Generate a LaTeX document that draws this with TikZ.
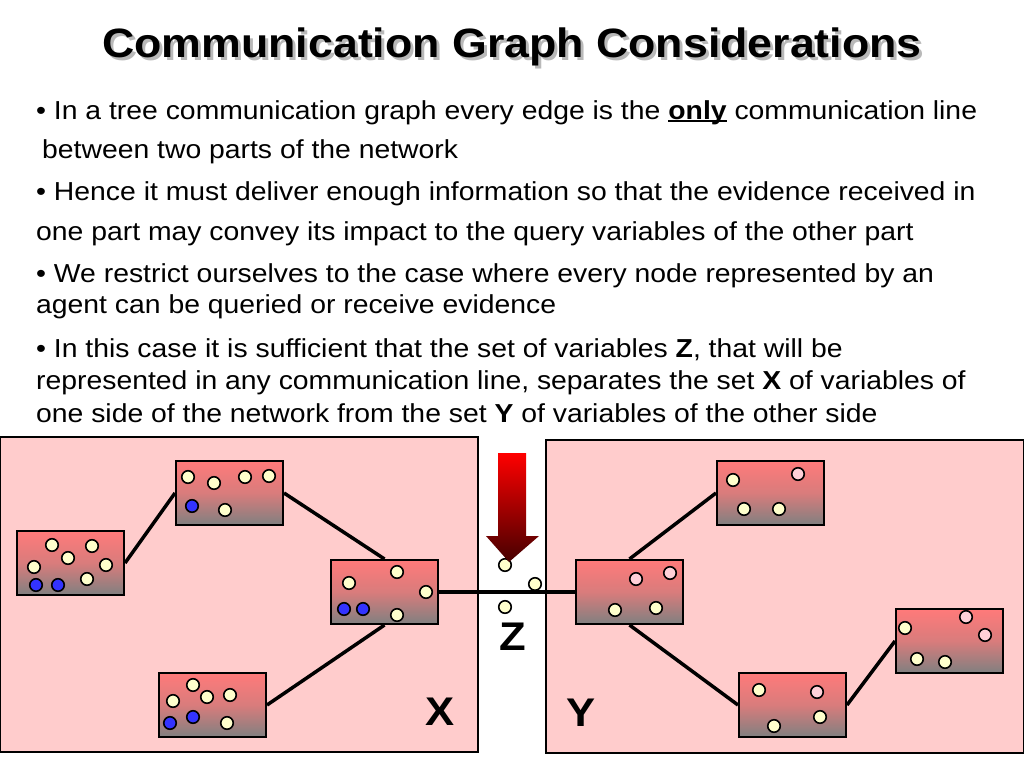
\documentclass[tikz,border=0pt]{standalone}
\usepackage{fontspec}
\setmainfont{Liberation Sans}[FakeStretch=1.09]
\definecolor{panelpink}{RGB}{255,204,204}
\definecolor{cream}{RGB}{255,255,204}
\definecolor{dotblue}{RGB}{51,51,255}
\definecolor{dotpink}{RGB}{255,208,216}
\definecolor{boxtop}{RGB}{255,122,122}
\definecolor{boxbot}{RGB}{128,128,128}
\definecolor{arrtop}{RGB}{255,0,0}
\definecolor{arrbot}{RGB}{70,0,0}
\newcommand\myul[1]{\setbox0\hbox{#1}\rlap{\raisebox{-3.2pt}{\rule{\wd0}{2pt}}}\box0\relax}
\begin{document}
\begin{tikzpicture}[x=1pt,y=-1pt,
  bodytext/.style={anchor=base west,inner sep=0,font=\fontsize{26}{30}\selectfont},
  panel/.style={draw,line width=2pt,fill=panelpink},
  agent/.style={draw,line width=2pt,top color=boxtop,bottom color=boxbot,middle color=boxtop!70!boxbot,minimum width=107pt,minimum height=64pt,inner sep=0},
  cr/.style={circle,draw,line width=1.6pt,fill=cream,minimum size=12.5pt,inner sep=0},
  cb/.style={cr,fill=dotblue},
  cp/.style={cr,fill=dotpink},
  link/.style={line width=3.5pt},
  setlabel/.style={font=\fontsize{40}{44}\selectfont\bfseries,inner sep=0}]
\useasboundingbox (0,0) rectangle (1024,768);
\fill[white] (0,0) rectangle (1024,768);
% title with soft shadow
\node[text=gray!55,font=\fontsize{41}{46}\selectfont\bfseries,anchor=base] (titleshadow) at (515,60) {Communication Graph Considerations};
\node[font=\fontsize{41}{46}\selectfont\bfseries,anchor=base] (title) at (512,57) {Communication Graph Considerations};
% body
\node[bodytext] (l1) at (36,119) {• In a tree communication graph every edge is the \myul{\textbf{only}} communication line};
\node[bodytext] (l2) at (42,158) {between two parts of the network};
\node[bodytext] (l3) at (36,200) {• Hence it must deliver enough information so that the evidence received in};
\node[bodytext] (l4) at (36,240) {one part may convey its impact to the query variables of the other part};
\node[bodytext] (l5) at (36,282) {• We restrict ourselves to the case where every node represented by an};
\node[bodytext] (l6) at (36,313) {agent can be queried or receive evidence};
\node[bodytext] (l7) at (36,357) {• In this case it is sufficient that the set of variables \textbf{Z}, that will be};
\node[bodytext] (l8) at (36,389) {represented in any communication line, separates the set \textbf{X} of variables of};
\node[bodytext] (l9) at (36,422) {one side of the network from the set \textbf{Y} of variables of the other side};
% panels
\draw[panel] (0,437) rectangle (478,752);
\draw[panel] (546,440) rectangle (1024,753);
% agents X side
\node[agent] (A) at (70.5,563) {};
\node[agent] (B) at (229.5,493) {};
\node[agent] (C) at (384.5,592) {};
\node[agent] (D) at (212.5,705) {};
% agents Y side
\node[agent] (E) at (629.5,592) {};
\node[agent] (F) at (770.5,493) {};
\node[agent] (G) at (792.5,705) {};
\node[agent] (H) at (949.5,641) {};
% links
\draw[link] (A.east) -- (B.west);
\draw[link] (B.east) -- (C.north);
\draw[link] (C.south) -- (D.east);
\draw[link] (C.east) -- (E.west);
\draw[link] (E.north) -- (F.west);
\draw[link] (E.south) -- (G.west);
\draw[link] (G.east) -- (H.west);
% redraw agents on top of links
\node[agent] at (A) {};
\node[agent] at (B) {};
\node[agent] at (C) {};
\node[agent] at (D) {};
\node[agent] at (E) {};
\node[agent] at (F) {};
\node[agent] at (G) {};
\node[agent] at (H) {};
% variables in A
\foreach \p [count=\i] in {(52,545),(92,546),(68,558),(34,567),(106,565),(87,579)} \node[cr] (a\i) at \p {};
\node[cb] (a7) at (36,585) {};
\node[cb] (a8) at (58,585) {};
% B
\foreach \p [count=\i] in {(188,477),(214,483),(245,477),(269,476),(225,510)} \node[cr] (b\i) at \p {};
\node[cb] (b6) at (192,506) {};
% C
\foreach \p [count=\i] in {(397,572),(349,583),(426,592),(397,615)} \node[cr] (c\i) at \p {};
\node[cb] (c5) at (344,609) {};
\node[cb] (c6) at (363,609) {};
% D
\foreach \p [count=\i] in {(193,685),(173,701),(207,697),(230,695),(227,723)} \node[cr] (d\i) at \p {};
\node[cb] (d6) at (170,723) {};
\node[cb] (d7) at (193,717) {};
% E
\node[cp] (e1) at (636,579) {};
\node[cp] (e2) at (670,573) {};
\node[cr] (e3) at (615,610) {};
\node[cr] (e4) at (656,608) {};
% F
\node[cr] (f1) at (733,480) {};
\node[cp] (f2) at (798,474) {};
\node[cr] (f3) at (744,509) {};
\node[cr] (f4) at (779,509) {};
% G
\node[cr] (g1) at (759,690) {};
\node[cp] (g2) at (817,692) {};
\node[cr] (g3) at (820,717) {};
\node[cr] (g4) at (774,726) {};
% H
\node[cr] (h1) at (905,628) {};
\node[cp] (h2) at (966,617) {};
\node[cp] (h3) at (985,635) {};
\node[cr] (h4) at (917,659) {};
\node[cr] (h5) at (945,662) {};
% separator variables Z
\node[cr] (z1) at (505,565) {};
\node[cr] (z2) at (535,584) {};
\node[cr] (z3) at (505,607) {};
% arrow
\shade[top color=arrtop,bottom color=arrbot] (498,453) -- (526,453) -- (526,536) -- (539,536) -- (509,562) -- (486,536) -- (498,536) -- cycle;
% labels
\node[setlabel] (xl) at (440,712) {X};
\node[setlabel] (yl) at (581,713) {Y};
\node[setlabel] (zl) at (513,637) {Z};
\end{tikzpicture}
\end{document}
